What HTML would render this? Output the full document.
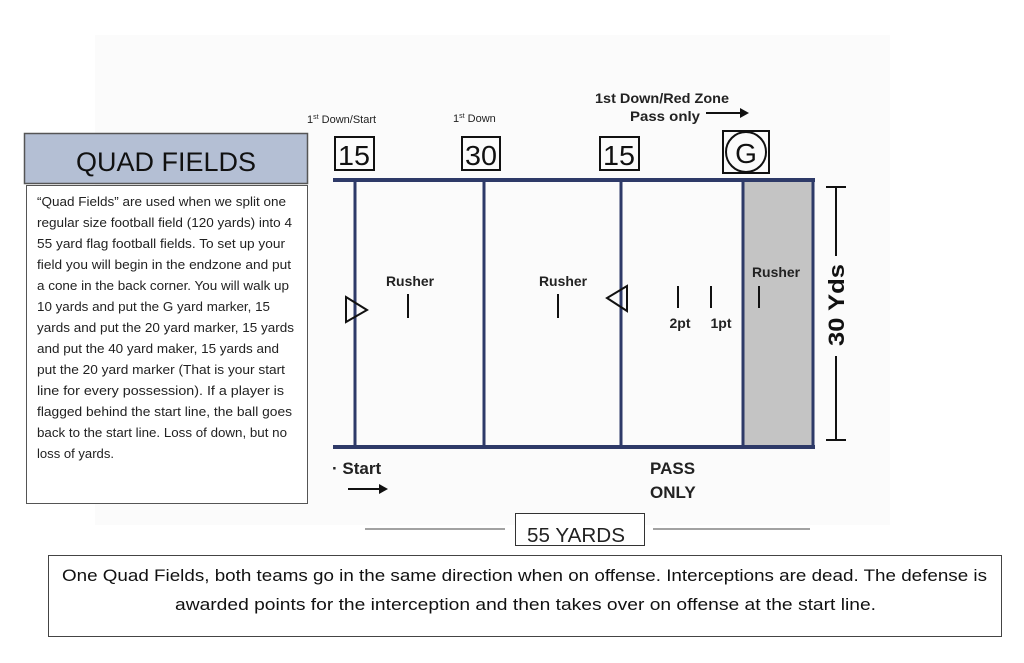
<!DOCTYPE html>
<html><head><meta charset="utf-8"><style>
html,body{margin:0;padding:0;background:#fff;}
svg{display:block;font-family:"Liberation Sans",sans-serif;}
</style></head><body>
<svg width="1024" height="663" viewBox="0 0 1024 663" xmlns="http://www.w3.org/2000/svg">
<rect x="0" y="0" width="1024" height="663" fill="#fff"/>
<rect x="95" y="35" width="795" height="490" fill="#fbfbfb"/>
<!-- Left title -->
<rect x="24.5" y="133.5" width="283" height="50" fill="#b4bfd4" stroke="#555" stroke-width="1.5"/>
<text x="166" y="171" font-size="27" text-anchor="middle" fill="#111" textLength="180" lengthAdjust="spacingAndGlyphs">QUAD FIELDS</text>
<rect x="26.5" y="185.5" width="281" height="318" fill="#fff" stroke="#555" stroke-width="1"/>
<g font-size="13" fill="#222">
<text x="37" y="206" textLength="249" lengthAdjust="spacingAndGlyphs">“Quad Fields” are used when we split one</text>
<text x="37" y="227" textLength="255" lengthAdjust="spacingAndGlyphs">regular size football field (120 yards) into 4</text>
<text x="37" y="248" textLength="248" lengthAdjust="spacingAndGlyphs">55 yard flag football fields. To set up your</text>
<text x="37" y="269" textLength="254" lengthAdjust="spacingAndGlyphs">field you will begin in the endzone and put</text>
<text x="37" y="290" textLength="252" lengthAdjust="spacingAndGlyphs">a cone in the back corner. You will walk up</text>
<text x="37" y="311" textLength="233" lengthAdjust="spacingAndGlyphs">10 yards and put the G yard marker, 15</text>
<text x="37" y="332" textLength="257" lengthAdjust="spacingAndGlyphs">yards and put the 20 yard marker, 15 yards</text>
<text x="37" y="353" textLength="242" lengthAdjust="spacingAndGlyphs">and put the 40 yard maker, 15 yards and</text>
<text x="37" y="374" textLength="248" lengthAdjust="spacingAndGlyphs">put the 20 yard marker (That is your start</text>
<text x="37" y="395" textLength="247" lengthAdjust="spacingAndGlyphs">line for every possession). If a player is</text>
<text x="37" y="416" textLength="255" lengthAdjust="spacingAndGlyphs">flagged behind the start line, the ball goes</text>
<text x="37" y="437" textLength="250" lengthAdjust="spacingAndGlyphs">back to the start line. Loss of down, but no</text>
<text x="37" y="458" textLength="77" lengthAdjust="spacingAndGlyphs">loss of yards.</text>
</g>
<!-- top labels -->
<text x="307" y="123" font-size="11" fill="#222">1<tspan font-size="7" dy="-4">st</tspan><tspan dy="4"> Down/Start</tspan></text>
<text x="453" y="122" font-size="11" fill="#222">1<tspan font-size="7" dy="-4">st</tspan><tspan dy="4"> Down</tspan></text>
<text x="662" y="103" font-size="14" font-weight="bold" text-anchor="middle" fill="#222" textLength="134" lengthAdjust="spacingAndGlyphs">1st Down/Red Zone</text>
<text x="665" y="121" font-size="14" font-weight="bold" text-anchor="middle" fill="#222" textLength="70" lengthAdjust="spacingAndGlyphs">Pass only</text>
<line x1="706" y1="113" x2="744" y2="113" stroke="#111" stroke-width="2"/>
<polygon points="749,113 740,108 740,118" fill="#111"/>
<!-- markers -->
<g fill="none" stroke="#111" stroke-width="2">
<rect x="335" y="137" width="39" height="33"/>
<rect x="462" y="137" width="38" height="33"/>
<rect x="600" y="137" width="39" height="33"/>
<rect x="723" y="131" width="46" height="42"/>
<circle cx="746" cy="152" r="20"/>
</g>
<g font-size="28" fill="#111" text-anchor="middle">
<text x="354" y="165" textLength="32" lengthAdjust="spacingAndGlyphs">15</text>
<text x="481" y="165" textLength="32" lengthAdjust="spacingAndGlyphs">30</text>
<text x="619" y="165" textLength="32" lengthAdjust="spacingAndGlyphs">15</text>
<text x="746" y="163" font-size="28">G</text>
</g>
<!-- field -->
<rect x="744" y="181" width="68" height="265" fill="#c4c4c4"/>
<g stroke="#2e3a68" stroke-width="3" fill="none">
<line x1="333" y1="180" x2="815" y2="180" stroke-width="4"/>
<line x1="333" y1="447" x2="815" y2="447" stroke-width="4"/>
<line x1="355" y1="180" x2="355" y2="447"/>
<line x1="484" y1="180" x2="484" y2="447"/>
<line x1="621" y1="180" x2="621" y2="447"/>
<line x1="743" y1="180" x2="743" y2="447"/>
<line x1="813" y1="180" x2="813" y2="447"/>
</g>
<g font-size="14" fill="#222" text-anchor="middle" font-weight="bold">
<text x="410" y="286" textLength="48" lengthAdjust="spacingAndGlyphs">Rusher</text>
<text x="563" y="286" textLength="48" lengthAdjust="spacingAndGlyphs">Rusher</text>
<text x="776" y="277" textLength="48" lengthAdjust="spacingAndGlyphs">Rusher</text>
<text x="680" y="328">2pt</text>
<text x="721" y="328">1pt</text>
</g>
<g stroke="#111" stroke-width="2">
<line x1="408" y1="294" x2="408" y2="318"/>
<line x1="558" y1="294" x2="558" y2="318"/>
<line x1="678" y1="286" x2="678" y2="308"/>
<line x1="711" y1="286" x2="711" y2="308"/>
<line x1="759" y1="286" x2="759" y2="308"/>
</g>
<polygon points="346,297 367,310 346,322" fill="none" stroke="#111" stroke-width="2"/>
<polygon points="627,286 607,298 627,311" fill="none" stroke="#111" stroke-width="2"/>
<!-- 30 yds -->
<g stroke="#111" stroke-width="2">
<line x1="826" y1="187" x2="846" y2="187"/>
<line x1="826" y1="440" x2="846" y2="440"/>
<line x1="836" y1="187" x2="836" y2="256"/>
<line x1="836" y1="356" x2="836" y2="440"/>
</g>
<text transform="translate(844,305) rotate(-90)" font-size="22" font-weight="bold" text-anchor="middle" fill="#111" textLength="82" lengthAdjust="spacingAndGlyphs">30 Yds</text>
<!-- bottom field labels -->
<text x="332" y="474" font-size="17" font-weight="bold" fill="#222">· Start</text>
<line x1="348" y1="489" x2="382" y2="489" stroke="#111" stroke-width="2"/>
<polygon points="388,489 379,484 379,494" fill="#111"/>
<text x="650" y="474" font-size="17" font-weight="bold" fill="#222">PASS</text>
<text x="650" y="498" font-size="17" font-weight="bold" fill="#222">ONLY</text>
<line x1="365" y1="529" x2="505" y2="529" stroke="#444" stroke-width="1"/>
<line x1="653" y1="529" x2="810" y2="529" stroke="#444" stroke-width="1"/>
<rect x="515.5" y="513.5" width="129" height="32" fill="#fff" stroke="#333" stroke-width="1"/>
<text x="576" y="542" font-size="20" text-anchor="middle" fill="#222" textLength="98" lengthAdjust="spacingAndGlyphs">55 YARDS</text>
<!-- bottom box -->
<rect x="48.5" y="555.5" width="953" height="81" fill="#fff" stroke="#444" stroke-width="1"/>
<text x="62" y="581" font-size="17" fill="#111" textLength="925" lengthAdjust="spacingAndGlyphs">One Quad Fields, both teams go in the same direction when on offense. Interceptions are dead. The defense is</text>
<text x="175" y="610" font-size="17" fill="#111" textLength="701" lengthAdjust="spacingAndGlyphs">awarded points for the interception and then takes over on offense at the start line.</text>
</svg>
</body></html>
